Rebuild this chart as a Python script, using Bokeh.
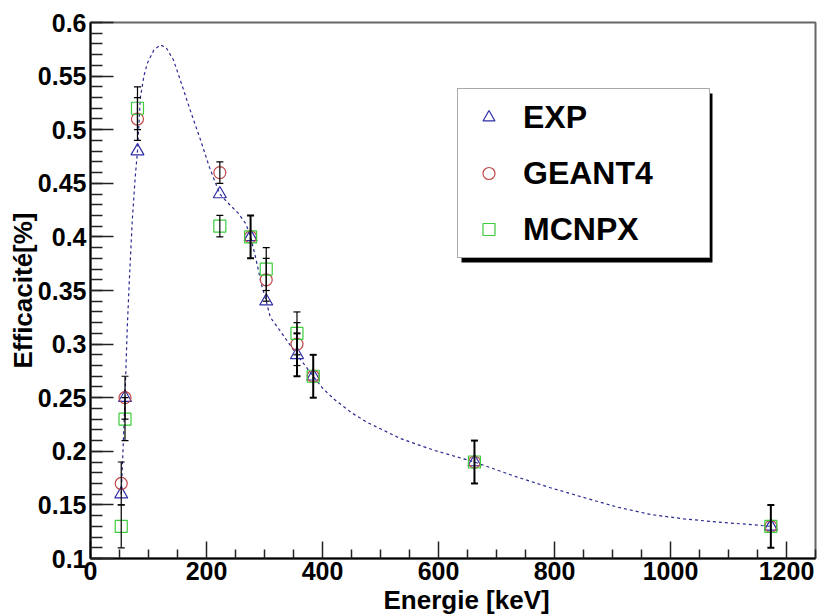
import numpy as np
from bokeh.plotting import figure
from bokeh.models import (ColumnDataSource, Whisker, TeeHead, Legend, LegendItem,
                          FixedTicker, Range1d, BoxAnnotation, Title)
from bokeh.embed import file_html
from bokeh.resources import INLINE

# ---- data ----
energy = [53, 59.5, 81, 223, 276, 303, 356, 384, 662, 1173]
exp_eff = [0.16, 0.25, 0.48, 0.44, 0.40, 0.34, 0.29, 0.27, 0.19, 0.13]
geant4_eff = [0.17, 0.25, 0.51, 0.46, 0.40, 0.36, 0.30, 0.27, 0.19, 0.13]
mcnpx_eff = [0.13, 0.23, 0.52, 0.41, 0.40, 0.37, 0.31, 0.27, 0.19, 0.13]

exp_err = [0.0, 0.0, 0.0, 0.0, 0.02, 0.0, 0.02, 0.02, 0.02, 0.02]
geant4_err = [0.02, 0.02, 0.02, 0.01, 0.0, 0.02, 0.02, 0.0, 0.0, 0.0]
mcnpx_err = [0.02, 0.02, 0.02, 0.01, 0.0, 0.02, 0.02, 0.0, 0.0, 0.0]

# fitted curve (dashed)
fit_energy = [53, 56, 59.5, 63, 67, 72, 77, 81, 86, 92, 98, 109, 120, 130, 143, 155, 172,
              190, 205, 223, 240, 255, 268, 276, 285, 295, 303, 310, 330, 356, 384, 400,
              419, 450, 477, 534, 592, 662, 730, 793, 850, 908, 966, 1023, 1081, 1130, 1173]
fit_eff = [0.16, 0.20, 0.25, 0.31, 0.36, 0.415, 0.455, 0.48, 0.53, 0.55, 0.562, 0.574,
           0.579, 0.577, 0.565, 0.546, 0.518, 0.49, 0.465, 0.44, 0.43, 0.422, 0.412, 0.40,
           0.38, 0.355, 0.34, 0.325, 0.31, 0.29, 0.27, 0.259, 0.249, 0.236, 0.227, 0.212,
           0.201, 0.19, 0.177, 0.166, 0.157, 0.148, 0.141, 0.137, 0.134, 0.132, 0.13]

x_ticks = [0, 200, 400, 600, 800, 1000, 1200]
y_ticks = [0.1, 0.15, 0.2, 0.25, 0.3, 0.35, 0.4, 0.45, 0.5, 0.55, 0.6]
y_tick_labels = ["0.1", "0.15", "0.2", "0.25", "0.3", "0.35", "0.4", "0.45", "0.5", "0.55", "0.6"]

FONT = "Liberation Sans"

p = figure(width=820, height=614, output_backend="svg", toolbar_location=None,
           x_range=Range1d(0, 1250), y_range=Range1d(0.1, 0.6),
           min_border_left=90, min_border_right=5, min_border_top=22, min_border_bottom=48)
p.xgrid.visible = False
p.ygrid.visible = False
p.outline_line_color = "#666666"
p.outline_line_width = 2
p.background_fill_color = "white"
p.border_fill_color = "white"

# axes
x_minor = [v for v in range(0, 1251, 50) if v % 200 != 0]
y_minor = [round(v, 2) for v in np.arange(0.1, 0.6001, 0.01)]
p.xaxis.ticker = FixedTicker(ticks=x_ticks, minor_ticks=x_minor)
p.yaxis.ticker = FixedTicker(ticks=y_ticks, minor_ticks=y_minor)
p.yaxis.major_label_overrides = {t: l for t, l in zip(y_ticks, y_tick_labels)}
for ax in (p.xaxis, p.yaxis):
    ax.axis_line_color = "black"
    ax.axis_line_width = 2
    ax.major_tick_line_color = "#222222"
    ax.minor_tick_line_color = "#222222"
    ax.major_tick_line_width = 1.5
    ax.minor_tick_line_width = 1.5
    ax.major_tick_out = 0
    ax.minor_tick_out = 0
    ax.major_label_text_font = FONT
    ax.major_label_text_font_style = "bold"
    ax.major_label_text_font_size = "25px"
    ax.major_label_text_color = "black"
    ax.major_label_standoff = 4
p.xaxis.major_label_standoff = 3
p.xaxis.major_tick_in = 17
p.xaxis.minor_tick_in = 9
p.yaxis.major_tick_in = 23
p.yaxis.minor_tick_in = 12

p.yaxis.axis_label = "Efficacité[%]"
p.yaxis.axis_label_text_font = FONT
p.yaxis.axis_label_text_font_style = "bold"
p.yaxis.axis_label_text_font_size = "26px"
p.yaxis.axis_label_text_color = "black"
p.yaxis.axis_label_standoff = -3

# fit curve
p.line(fit_energy, fit_eff, line_color="#2a2a90", line_width=1.2, line_dash="3 3")

# error bars
def add_err(vals, errs, width):
    xs = [e for e, s in zip(energy, errs) if s > 0]
    up = [v + s for v, s in zip(vals, errs) if s > 0]
    lo = [v - s for v, s in zip(vals, errs) if s > 0]
    src = ColumnDataSource(dict(x=xs, upper=up, lower=lo))
    w = Whisker(base="x", upper="upper", lower="lower", source=src, dimension="height",
                line_color="black", line_width=width, level="glyph",
                upper_head=TeeHead(size=7, line_color="black", line_width=width),
                lower_head=TeeHead(size=7, line_color="black", line_width=width))
    p.add_layout(w)

add_err(geant4_eff, geant4_err, 1.2)
add_err(mcnpx_eff, mcnpx_err, 1.2)
add_err(exp_eff, exp_err, 2)

r_exp = p.scatter(energy, exp_eff, marker="triangle", size=13, line_color="#2e2ea8",
                  fill_alpha=0, line_width=1.2)
r_g4 = p.scatter(energy, geant4_eff, marker="circle", size=12, line_color="#c04848",
                 fill_alpha=0, line_width=1.2)
r_mc = p.scatter(energy, mcnpx_eff, marker="square", size=12, line_color="#3ccc3c",
                 fill_alpha=0, line_width=1.2)

# legend shadow
p.add_layout(BoxAnnotation(left=639.7, right=1072.4, top=0.5338, bottom=0.3761,
                           fill_color="black", fill_alpha=1, line_alpha=0, level="underlay"))

legend = Legend(items=[LegendItem(label="EXP", renderers=[r_exp]),
                       LegendItem(label="GEANT4", renderers=[r_g4]),
                       LegendItem(label="MCNPX", renderers=[r_mc])],
                location=(367, 300), padding=8, spacing=16,
                glyph_width=45, glyph_height=30, label_height=40, label_width=178,
                label_standoff=12, margin=0,
                label_text_font=FONT, label_text_font_style="bold",
                label_text_font_size="32px", label_text_color="black",
                border_line_color="#555555", border_line_width=1,
                background_fill_color="white", background_fill_alpha=1)
p.add_layout(legend, "center")

# x axis title (ROOT style, offset to the right)
p.add_layout(Title(text="Energie [keV]", align="left", offset=293, standoff=0,
                   text_font=FONT, text_font_style="bold", text_font_size="26px",
                   text_color="black"), "below")

open("out.html", "w").write(file_html(p, INLINE))
